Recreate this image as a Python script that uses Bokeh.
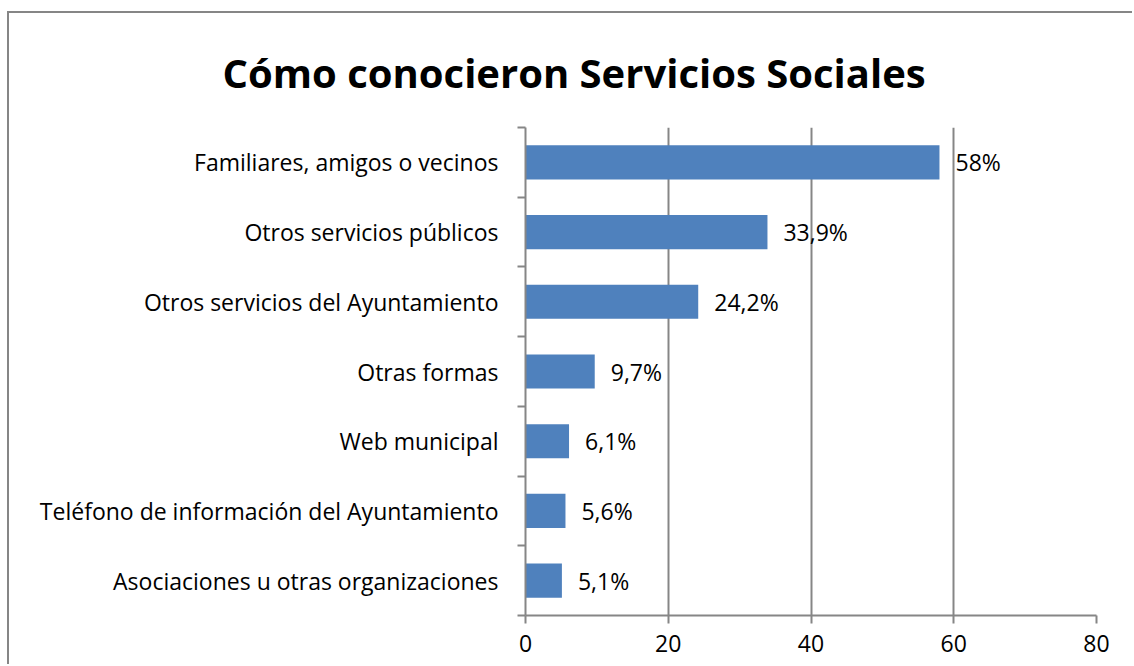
from bokeh.plotting import figure
from bokeh.models import Range1d, FixedTicker, ColumnDataSource
from bokeh.core.properties import value
from bokeh.embed import file_html
from bokeh.resources import INLINE

# ---- data (top to bottom as in the chart) ----
categories = [
    "Familiares, amigos o vecinos",
    "Otros servicios públicos",
    "Otros servicios del Ayuntamiento",
    "Otras formas",
    "Web municipal",
    "Teléfono de información del Ayuntamiento",
    "Asociaciones u otras organizaciones",
]
percent = [58, 33.9, 24.2, 9.7, 6.1, 5.6, 5.1]
x_ticks = [0, 20, 40, 60, 80]
title_text = "Cómo conocieron Servicios Sociales"

FONT = "Open Sans"
GRAY = "#868686"
BLUE = "#4F81BD"

n = len(categories)
ypos = [n - 0.5 - i for i in range(n)]
labels = [f"{v:g}%".replace(".", ",") for v in percent]

src = ColumnDataSource(dict(y=ypos, v=percent, lab=labels, cat=categories))

W, H = 1125, 653
p = figure(width=W, height=H, output_backend="svg", toolbar_location=None,
           x_range=Range1d(0, 80), y_range=Range1d(0, n),
           min_border_left=516, min_border_right=38,
           min_border_top=114, min_border_bottom=51)
p.styles = {"border-left": f"2px solid {GRAY}", "border-top": f"2px solid {GRAY}",
            "margin-top": "11px", "margin-left": "7px"}
p.outline_line_color = None
p.background_fill_color = "white"
p.border_fill_color = "white"

p.title.text = title_text
p.title.align = "left"
p.title.offset = -303
p.title.standoff = 56
p.title.text_font = FONT
p.title.text_font_style = "bold"
p.title.text_font_size = "40px"
p.title.text_color = "black"

p.hbar(y="y", right="v", left=0, height=0.49, source=src,
       fill_color=BLUE, line_color=None)

p.text(x="v", y="y", text="lab", source=src, x_offset=16,
       text_baseline="middle", text_align="left",
       text_font=value(FONT), text_font_size="23px", text_color="black")

# x axis
p.xaxis.ticker = FixedTicker(ticks=x_ticks)
p.xaxis.axis_line_color = GRAY
p.xaxis.axis_line_width = 2
p.xaxis.major_tick_line_color = GRAY
p.xaxis.major_tick_line_width = 2
p.xaxis.major_tick_out = 8
p.xaxis.major_tick_in = 0
p.xaxis.minor_tick_line_color = None
p.xaxis.major_label_text_font = FONT
p.xaxis.major_label_text_font_size = "23px"
p.xaxis.major_label_text_color = "black"
p.xaxis.major_label_standoff = 11

# y axis: labels at band centres, ticks at band boundaries
p.yaxis.ticker = FixedTicker(ticks=ypos, minor_ticks=list(range(n + 1)))
p.yaxis.major_label_overrides = {y: c for y, c in zip(ypos, categories)}
p.yaxis.axis_line_color = GRAY
p.yaxis.axis_line_width = 2
p.yaxis.major_tick_line_color = None
p.yaxis.major_tick_out = 8
p.yaxis.major_tick_in = 0
p.yaxis.minor_tick_line_color = GRAY
p.yaxis.minor_tick_line_width = 2
p.yaxis.minor_tick_out = 8
p.yaxis.minor_tick_in = 0
p.yaxis.major_label_text_font = FONT
p.yaxis.major_label_text_font_size = "23px"
p.yaxis.major_label_text_color = "black"
p.yaxis.major_label_standoff = 19

p.xgrid.ticker = FixedTicker(ticks=x_ticks)
p.xgrid.grid_line_color = GRAY
p.xgrid.grid_line_width = 2
p.ygrid.grid_line_color = None

open("out.html", "w").write(file_html(p, INLINE))
